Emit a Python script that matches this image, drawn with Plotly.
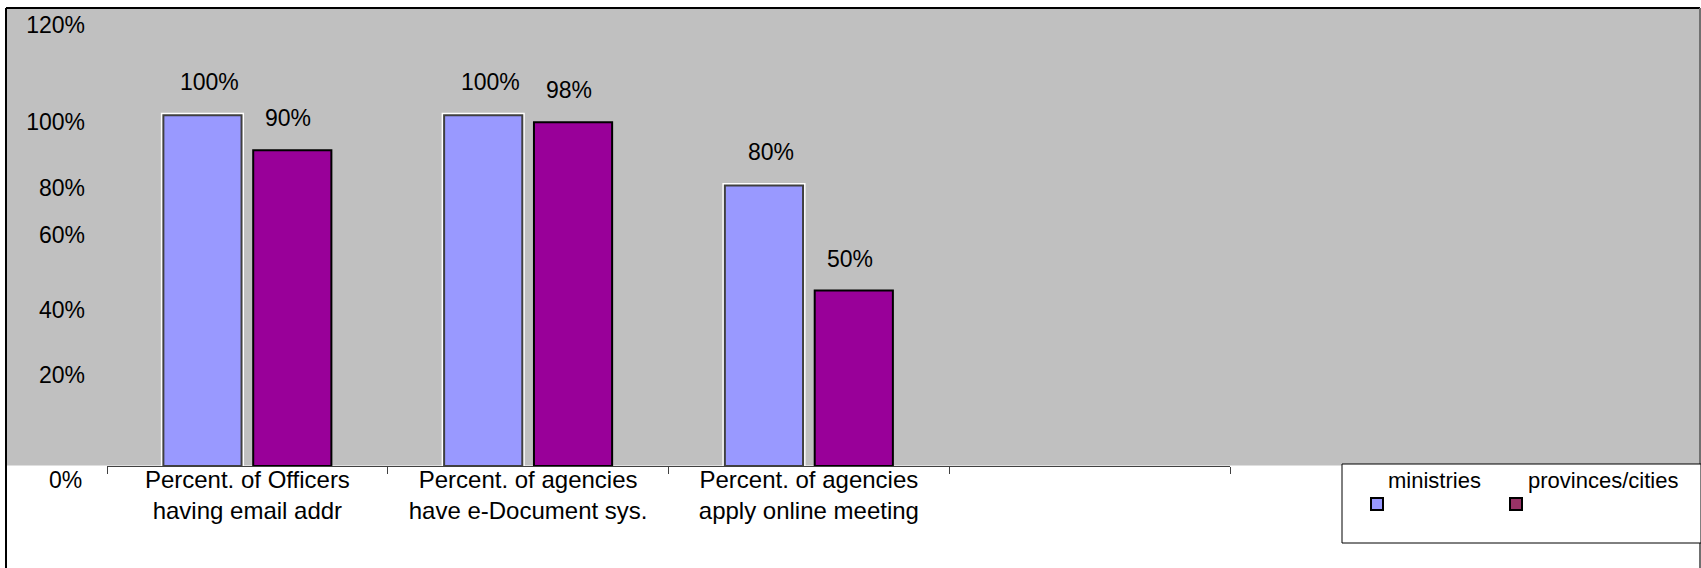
import plotly.graph_objects as go

# ---- data ----
categories = ["Percent. of Officers<br>having email addr",
              "Percent. of agencies<br>have e-Document sys.",
              "Percent. of agencies<br>apply online meeting"]
empty_slot = [" "]
series_names = ["ministries", "provinces/cities"]
ministries = [1.00, 1.00, 0.80]
provinces = [0.90, 0.98, 0.50]
ministries_labels = ["100%", "100%", "80%"]
provinces_labels = ["90%", "98%", "50%"]
ytick_vals = [0.259, 0.444, 0.658, 0.792, 0.980, 1.256]
ytick_text = ["20%", "40%", "60%", "80%", "100%", "120%"]
zero_label = "0%"

# ---- geometry helpers (layout only) ----
W, H = 1701, 568
ML, MR, MT, MB = 107, 471, 10, 102
PW, PH = W - ML - MR, H - MT - MB


def px(x):
    return (x - ML) / PW


def py(y):
    return (H - MB - y) / PH


FONT = "Liberation Sans, Arial, sans-serif"
C_MIN = "#9999FF"
C_PROV = "#990099"
C_PROV_KEY = "#993366"

fig = go.Figure()
# white halo behind ministries bars
fig.add_trace(go.Bar(x=categories, y=ministries, offsetgroup="m",
                     marker=dict(color=C_MIN, line=dict(color="white", width=5)),
                     showlegend=False, hoverinfo="skip"))
fig.add_trace(go.Bar(x=categories, y=ministries, name=series_names[0], offsetgroup="m",
                     marker=dict(color=C_MIN, line=dict(color="#404040", width=2))))
fig.add_trace(go.Bar(x=categories, y=provinces, name=series_names[1], offsetgroup="p",
                     marker=dict(color=C_PROV, line=dict(color="black", width=2))))

annotations = []
for cat, v, t in zip(categories, ministries, ministries_labels):
    annotations.append(dict(x=cat, y=v, xref="x", yref="y", text=t, showarrow=False,
                            xshift=-47 + 9, yshift=33, yanchor="middle",
                            font=dict(family=FONT, size=23, color="black")))
for cat, v, t in zip(categories, provinces, provinces_labels):
    annotations.append(dict(x=cat, y=v, xref="x", yref="y", text=t, showarrow=False,
                            xshift=44 - 3, yshift=32, yanchor="middle",
                            font=dict(family=FONT, size=23, color="black")))
# 0% tick label (sits below the baseline)
annotations.append(dict(x=px(84), y=0, xref="paper", yref="y", text=zero_label,
                        showarrow=False, xanchor="right", yanchor="middle", yshift=-14,
                        font=dict(family=FONT, size=23, color="black")))
# custom legend (label above key square)
leg_text_x = [1434, 1603]
leg_key_x = [1377, 1516]
for name, tx in zip(series_names, leg_text_x):
    annotations.append(dict(x=px(tx), y=py(480), xref="paper", yref="paper", text=name,
                            showarrow=False, xanchor="center", yanchor="middle",
                            font=dict(family=FONT, size=22, color="black")))

shapes = [
    # gray chart area
    dict(type="rect", xref="paper", yref="paper", x0=px(7), x1=px(1700), y0=py(465.5), y1=py(9),
         fillcolor="#C0C0C0", line=dict(width=0), layer="below"),
    # outer border
    dict(type="line", xref="paper", yref="paper", x0=px(6), x1=px(6), y0=py(8), y1=py(600),
         line=dict(color="black", width=2)),
    dict(type="line", xref="paper", yref="paper", x0=px(6), x1=px(1700), y0=py(8), y1=py(8),
         line=dict(color="black", width=2)),
    dict(type="line", xref="paper", yref="paper", x0=px(1700), x1=px(1700), y0=py(8), y1=py(600),
         line=dict(color="#707070", width=2)),
    # legend box
    dict(type="rect", xref="paper", yref="paper", x0=px(1342), x1=px(1701), y0=py(543), y1=py(464),
         fillcolor="white", line=dict(color="black", width=1)),
]
for color, kx in zip([C_MIN, C_PROV_KEY], leg_key_x):
    shapes.append(dict(type="rect", xref="paper", yref="paper",
                       x0=px(kx - 6), x1=px(kx + 6), y0=py(510), y1=py(498),
                       fillcolor=color, line=dict(color="black", width=2)))

fig.update_layout(
    width=W, height=H,
    margin=dict(l=ML, r=MR, t=MT, b=MB, pad=0),
    paper_bgcolor="white", plot_bgcolor="rgba(0,0,0,0)",
    barmode="group", bargap=0.36, bargroupgap=0.13,
    showlegend=False,
    font=dict(family=FONT, size=23, color="black"),
    annotations=annotations, shapes=shapes,
    xaxis=dict(type="category", categoryarray=categories + empty_slot, categoryorder="array",
               range=[-0.5, 3.5], showline=True, linecolor="#404040", linewidth=1,
               ticks="outside", ticklen=7, tickcolor="#404040", tickwidth=1,
               tickson="boundaries", showgrid=False, zeroline=False,
               tickfont=dict(family=FONT, size=24, color="black"), ticklabelstandoff=-8),
    yaxis=dict(range=[0, 1.3], tickvals=ytick_vals, ticktext=ytick_text,
               showline=False, showgrid=False, zeroline=False, ticks="",
               ticklabelstandoff=21, tickfont=dict(family=FONT, size=23, color="black")),
)

fig.write_html("out.html", config={"displayModeBar": False},
               post_script="document.body.style.margin='0';document.body.style.padding='0';")
